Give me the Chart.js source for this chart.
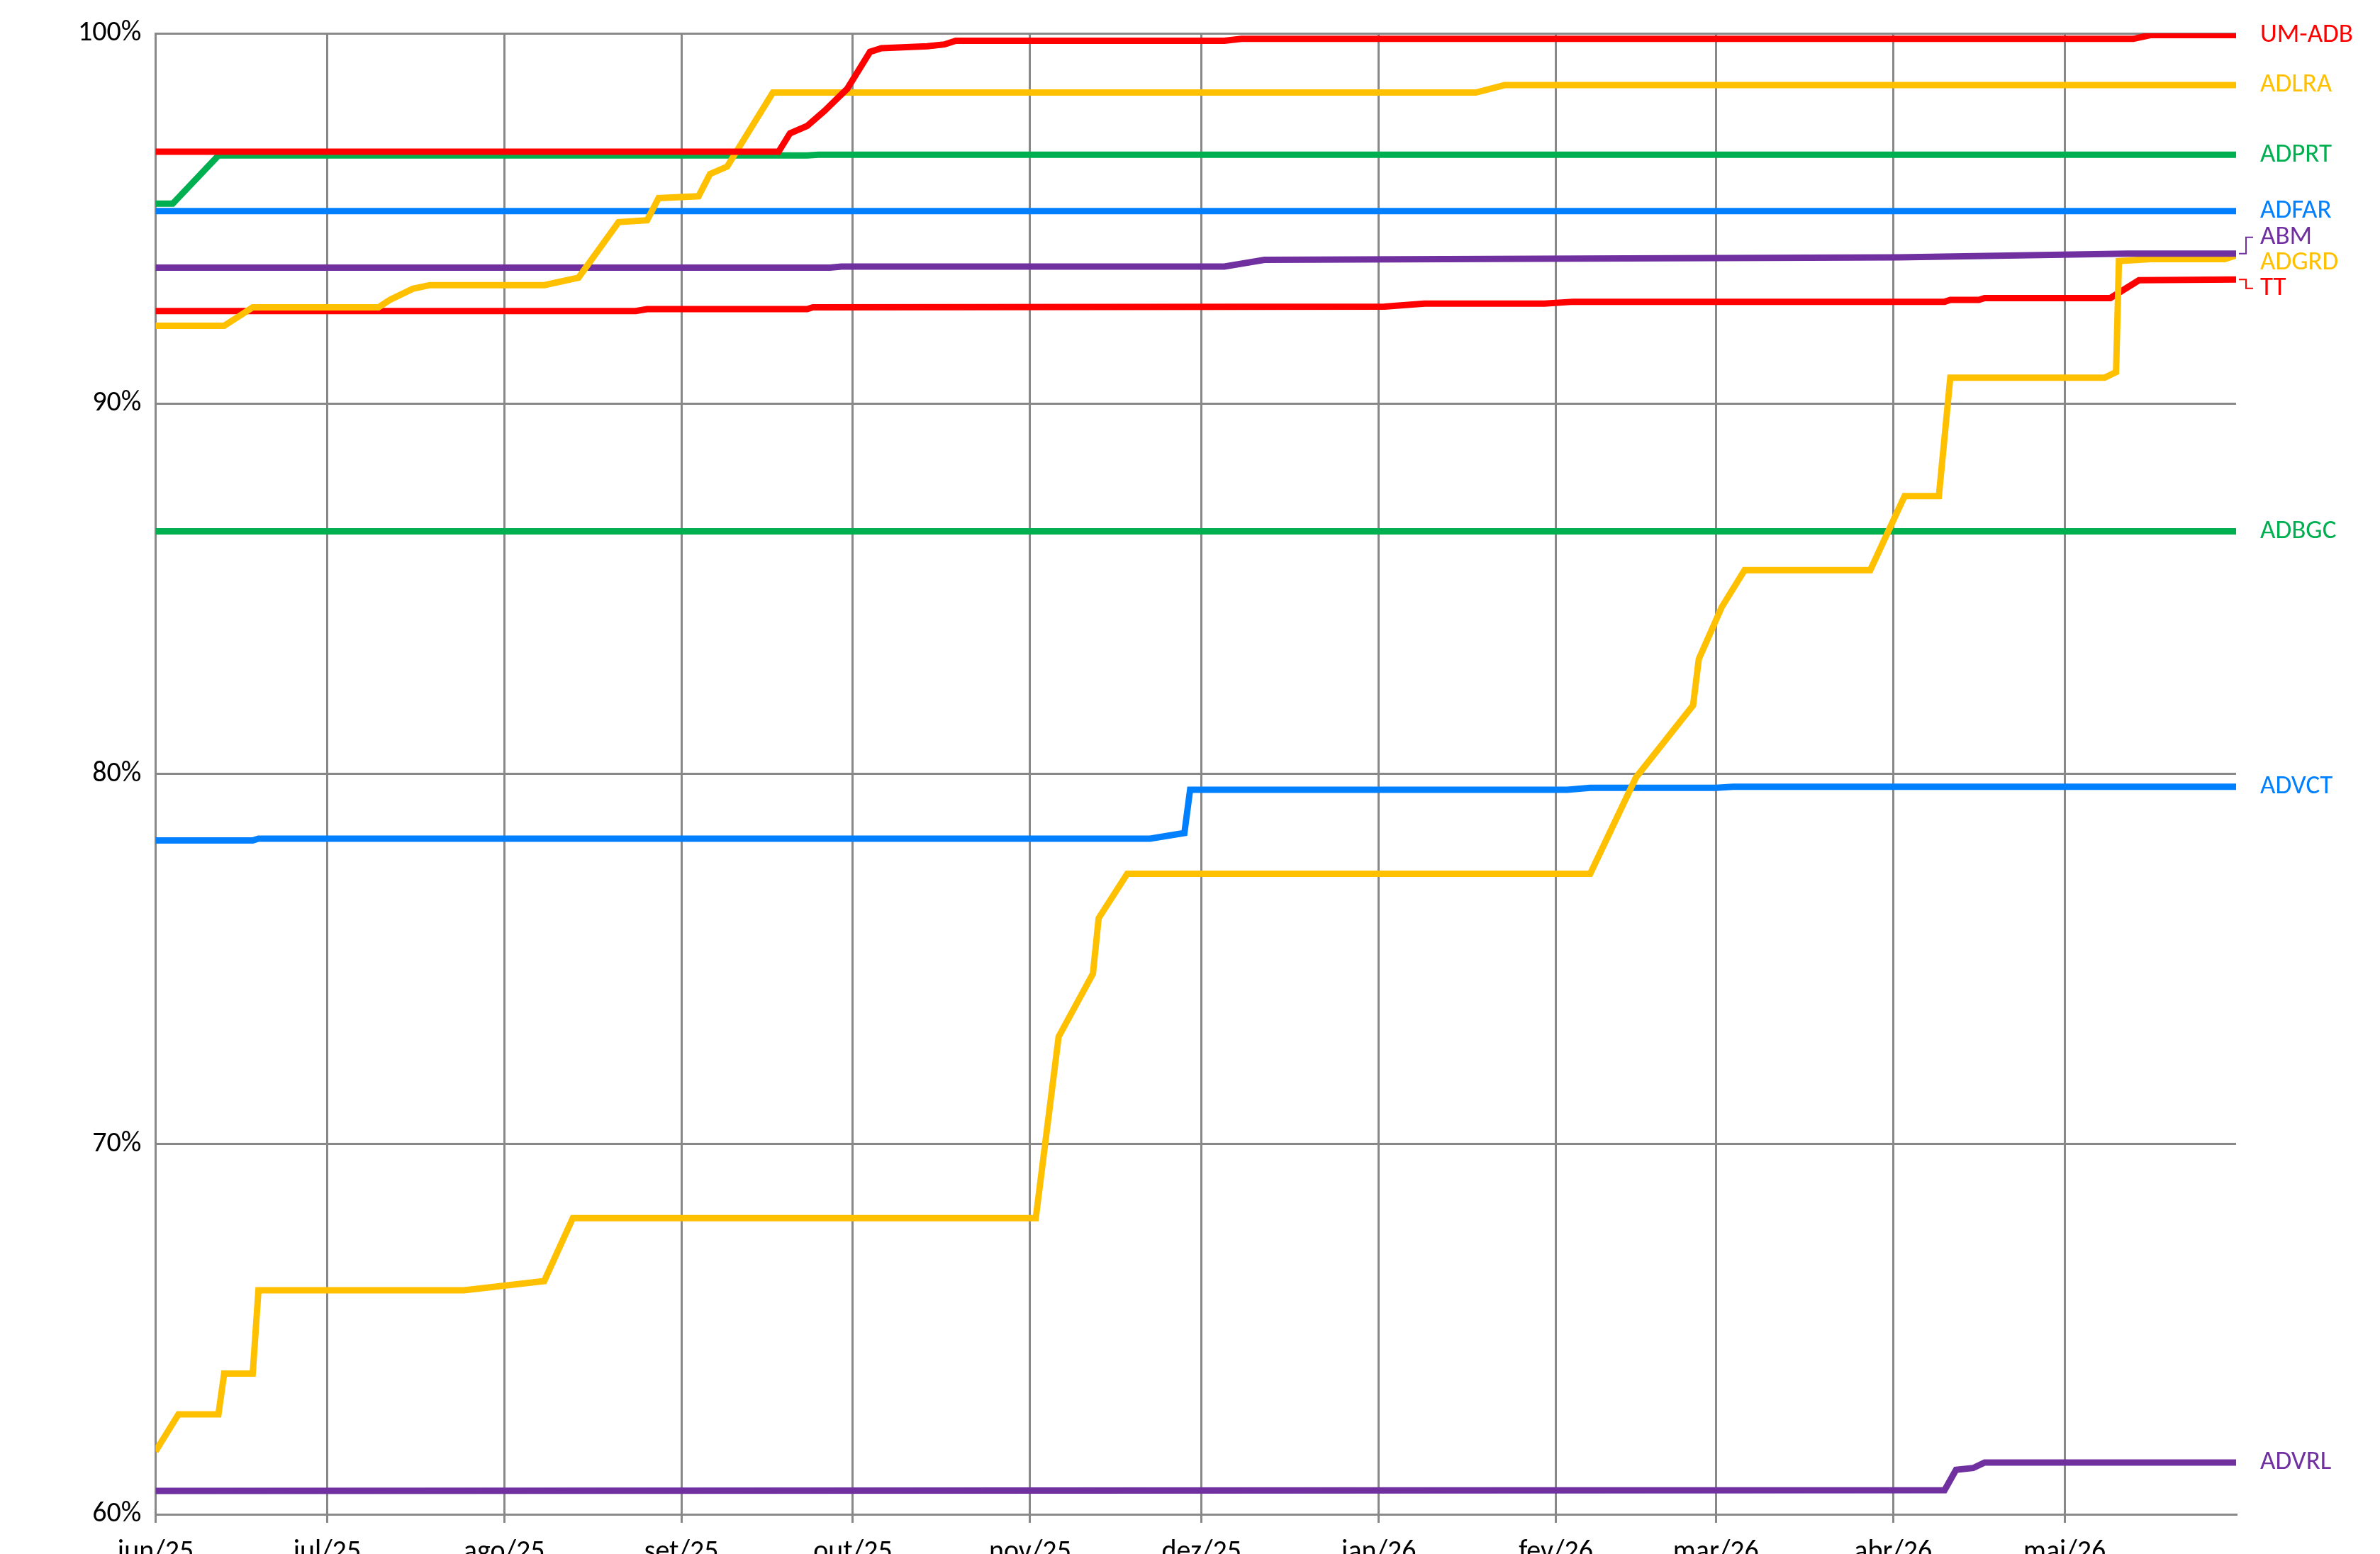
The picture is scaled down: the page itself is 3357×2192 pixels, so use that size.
<!DOCTYPE html>
<html><head><meta charset="utf-8">
<script src="https://cdn.jsdelivr.net/npm/chart.js@4"></script>
<style>html,body{margin:0;padding:0;background:#fff}#w{width:3357px;height:2192px}</style>
</head><body><div id="w"><canvas id="c"></canvas></div>
<script>
// x = days since 1 Jun 2025
const monthTicks = [0,30,61,92,122,153,183,214,245,273,304,334];
const monthLabels = ['jun/25','jul/25','ago/25','set/25','out/25','nov/25','dez/25','jan/26','fev/26','mar/26','abr/26','mai/26'];
const umAdb = [[0,96.8],[109,96.8],[111,97.3],[114,97.5],[117,97.9],[121,98.5],[125,99.5],[127,99.6],[135,99.65],[138,99.7],[140,99.8],[187,99.8],[190,99.85],[346,99.85],[349,99.95],[364,99.95]];
const tt = [[0,92.5],[84,92.5],[86,92.55],[114,92.55],[115,92.6],[215,92.62],[222,92.7],[243,92.7],[248,92.75],[313,92.75],[314,92.8],[319,92.8],[320,92.85],[342,92.85],[347,93.33],[364,93.35]];
const adlra = [[0,92.1],[12,92.1],[15,92.4],[17,92.6],[39,92.6],[41,92.8],[45,93.1],[48,93.2],[68,93.2],[74,93.4],[81,94.9],[86,94.95],[88,95.55],[95,95.6],[97,96.2],[100,96.4],[108,98.4],[231,98.4],[236,98.6],[364,98.6]];
const adprt = [[0,95.4],[3,95.4],[11,96.7],[114,96.7],[116,96.72],[364,96.72]];
const adfar = [[0,95.2],[364,95.2]];
const abm = [[0,93.67],[118,93.67],[120,93.7],[187,93.7],[194,93.88],[305,93.95],[345,94.05],[364,94.05]];
const adbgc = [[0,86.55],[364,86.55]];
const advct = [[0,78.2],[17,78.2],[18,78.25],[174,78.25],[180,78.4],[181,79.57],[247,79.57],[251,79.62],[273,79.62],[276,79.65],[364,79.65]];
const adgrd = [[0,61.7],[4,62.7],[11,62.7],[12,63.8],[17,63.8],[18,66.05],[54,66.05],[68,66.3],[73,68.0],[154,68.0],[158,72.9],[164,74.6],[165,76.1],[170,77.3],[251,77.3],[259,79.9],[269,81.85],[270,83.1],[274,84.5],[278,85.5],[300,85.5],[306,87.5],[312,87.5],[314,90.7],[341,90.7],[343,90.85],[343.5,93.85],[349,93.9],[362,93.9],[364,94.0]];
const advrl = [[0,60.63],[313,60.65],[315,61.2],[318,61.25],[320,61.4],[364,61.4]];
const seriesNames = ['UM-ADB','ADLRA','ADPRT','ADFAR','ABM','ADGRD','TT','ADBGC','ADVCT','ADVRL'];
const seriesData = [umAdb,adlra,adprt,adfar,abm,adgrd,tt,adbgc,advct,advrl];
const seriesColors = ['#FF0000','#FFC000','#00B050','#0080FF','#7030A0','#FFC000','#FF0000','#00B050','#0080FF','#7030A0'];
const FONT = 'Calibri, Carlito, "Open Sans", sans-serif';

const labelPlugin = {
  id:'endLabels',
  afterDatasetsDraw(chart){
    const ctx = chart.ctx, ys = chart.scales.y;
    const items = chart.data.datasets.map((d,i)=>({name:d.label,color:d.borderColor,y0:ys.getPixelForValue(d.data[d.data.length-1].y)}));
    items.sort((a,b)=>a.y0-b.y0);
    const gap = 36;
    // group overlapping labels and center each group on its original positions
    const groups=[]; let cur=[items[0]];
    for(let k=1;k<items.length;k++){ if(items[k].y0-cur[cur.length-1].y0<gap) cur.push(items[k]); else {groups.push(cur);cur=[items[k]];} }
    groups.push(cur);
    groups.forEach(g=>{
      const mean=g.reduce((s,it)=>s+it.y0,0)/g.length;
      const start=mean-gap*(g.length-1)/2;
      g.forEach((it,k)=>it.y=g.length>1?start+k*gap:it.y0);
    });
    ctx.save();
    ctx.font = '37px '+FONT;
    ctx.textBaseline='middle';
    const x0 = chart.chartArea.right;
    items.forEach(it=>{
      if (Math.abs(it.y-it.y0)>12){
        ctx.strokeStyle=it.color; ctx.lineWidth=2;
        ctx.beginPath(); ctx.moveTo(x0+4,it.y0); ctx.lineTo(x0+14,it.y0); ctx.lineTo(x0+14,it.y); ctx.lineTo(x0+24,it.y); ctx.stroke();
      }
      ctx.fillStyle=it.color; ctx.fillText(it.name,x0+34,it.y);
    });
    ctx.restore();
  }
};

new Chart(document.getElementById('c'),{
  type:'line',
  data:{datasets:seriesNames.map((n,i)=>({label:n,data:seriesData[i].map(p=>({x:p[0],y:p[1]})),borderColor:seriesColors[i],borderWidth:9,pointRadius:0,tension:0,fill:false}))},
  options:{
    responsive:true,maintainAspectRatio:false,animation:false,
    layout:{padding:{left:90,right:203,top:47,bottom:-40}},
    plugins:{legend:{display:false},tooltip:{enabled:false}},
    scales:{
      x:{type:'linear',min:0,max:364,
        afterBuildTicks(s){s.ticks=monthTicks.map(v=>({value:v}));},
        ticks:{autoSkip:false,maxRotation:0,font:{size:40,family:FONT},color:'#000',padding:18,
          callback(v){const i=monthTicks.indexOf(v);return i>=0?monthLabels[i]:'';}},
        grid:{color:'#888',lineWidth:3,tickLength:12},border:{color:'#888',width:3}},
      y:{min:60,max:100,
        ticks:{stepSize:10,font:{size:40,family:FONT},color:'#000',padding:20,callback:v=>v+'%'},
        grid:{color:'#888',lineWidth:3,drawTicks:false},border:{color:'#888',width:3}}
    }
  },
  plugins:[labelPlugin]
});
</script></body></html>
